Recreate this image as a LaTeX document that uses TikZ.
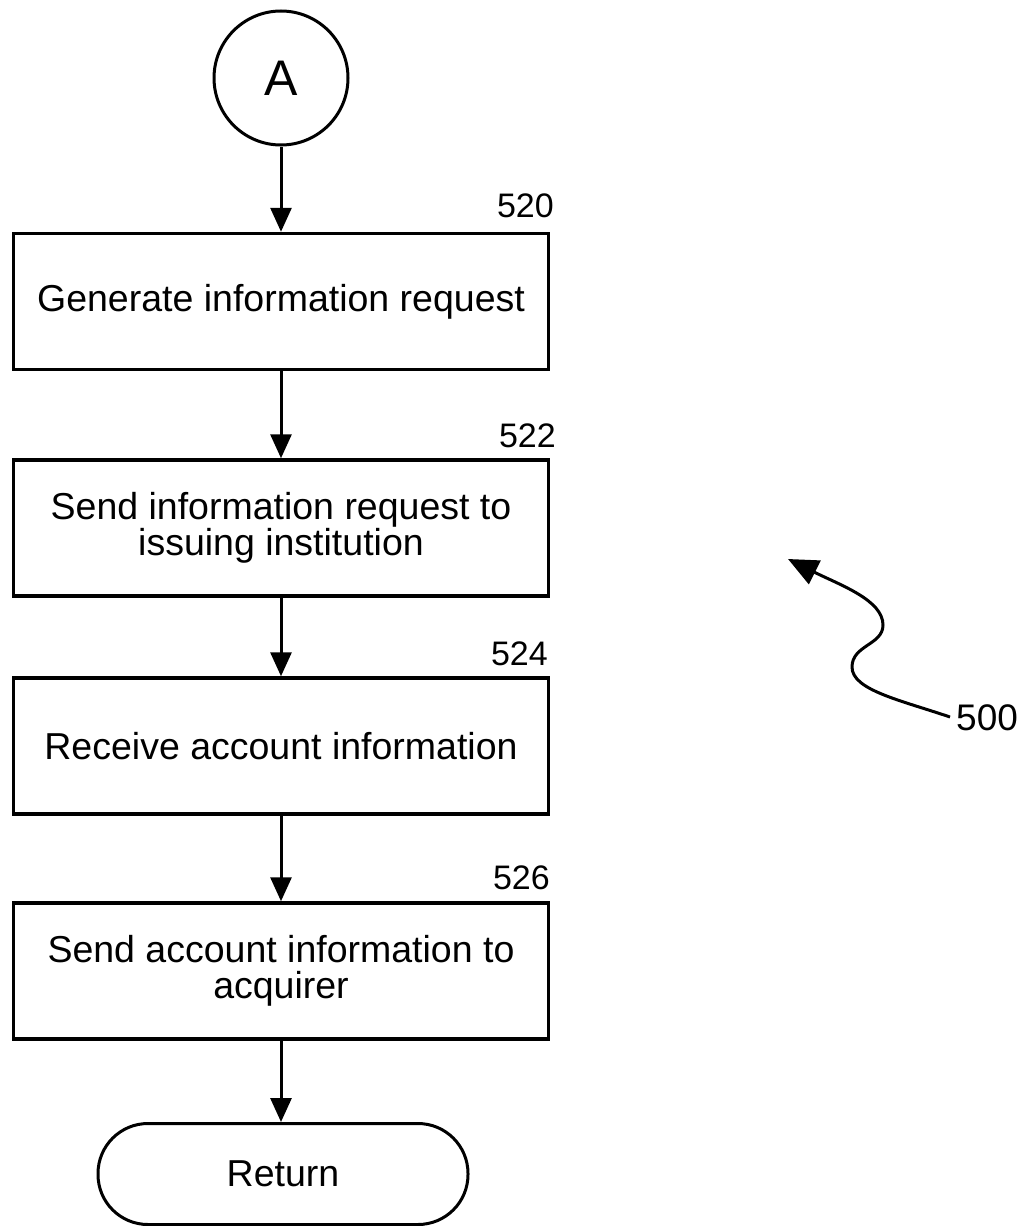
\documentclass[tikz,border=0pt]{standalone}
\usepackage{fontspec}
\setmainfont{Liberation Sans}
\usetikzlibrary{arrows.meta}
\tikzset{
  stepbox/.style={draw=black, line width=3.5pt, rectangle, minimum width=535pt, minimum height=136pt, inner sep=0pt, align=center, font=\fontsize{37.5}{37}\selectfont},
  refnum/.style={anchor=base east, inner sep=0pt, font=\fontsize{34}{34}\selectfont},
  conn/.style={line width=3pt, -{Triangle[length=24pt, width=21pt]}},
  connector/.style={draw=black, line width=3pt, circle, minimum size=134pt, inner sep=0pt, font=\fontsize{50}{50}\selectfont},
  terminal/.style={draw=black, line width=3pt, rectangle, rounded corners=50pt, minimum width=370pt, minimum height=101pt, inner sep=0pt, font=\fontsize{37.5}{37}\selectfont}
}
\begin{document}
\begin{tikzpicture}[x=1pt, y=-1pt]
\useasboundingbox (0,0) rectangle (1031,1226);
\node[connector] (A) at (281,78) {A};
\node[stepbox] (b520) at (281,301.5) {Generate information request};
\node[stepbox] (b522) at (281,528) {Send information request to\\[-1pt]issuing institution};
\node[stepbox] (b524) at (281,746) {Receive account information};
\node[stepbox] (b526) at (281,971) {Send account information to\\[-1pt]acquirer};
\node[terminal] (ret) at (283,1174) {Return};
\node[refnum] (l520) at (554,217) {520};
\node[refnum] (l522) at (556,447) {522};
\node[refnum] (l524) at (548,665) {524};
\node[refnum] (l526) at (550,889) {526};
\node[anchor=base west, inner sep=0pt, font=\fontsize{37}{37}\selectfont] (l500) at (956,730) {500};
\draw[conn] (A) -- (b520);
\draw[conn] (b520) -- (b522);
\draw[conn] (b522) -- (b524);
\draw[conn] (b524) -- (b526);
\draw[conn] (b526.south) -- (b526.south |- ret.north);
\coordinate (s500) at (950,717);
\coordinate (t500) at (788,559);
\draw[line width=3pt, -{Triangle[length=30pt, width=26pt]}] (s500) .. controls (900,700) and (852,690) .. (852,667) .. controls (852,645) and (883,645) .. (883,625) .. controls (883,600) and (840,585) .. (t500);
\end{tikzpicture}
\end{document}
